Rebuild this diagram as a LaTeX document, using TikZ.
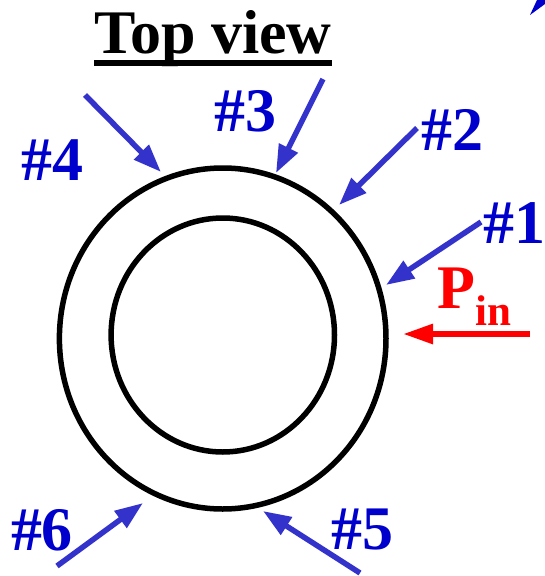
\documentclass[tikz,border=0pt]{standalone}
\usepackage{fontspec}
\setmainfont{Liberation Serif}
\usetikzlibrary{arrows.meta}
\definecolor{labelblue}{HTML}{0000CC}
\definecolor{arrowblue}{HTML}{3333CC}
\definecolor{pinred}{HTML}{FF0000}

\begin{document}
\begin{tikzpicture}[x=1pt, y=-1pt,
  ring/.style={draw=black, line width=5.5pt},
  probe/.style={draw=arrowblue, line width=5.5pt,
                -{Triangle[length=28pt,width=20pt]}},
  feed/.style={draw=pinred, line width=5.8pt,
               -{Triangle[length=30pt,width=19pt]}},
  big/.style={font=\fontsize{62}{62}\selectfont\bfseries, inner sep=0pt},
  num/.style={big, text=labelblue, anchor=base}]
\useasboundingbox (0,0) rectangle (545,576);

% title
\node[big, anchor=base] (title) at (213,53) {Top view};
\draw[line width=5.5pt] ([yshift=-10pt]title.base west) -- ([yshift=-10pt]title.base east);

% rings
\coordinate (c) at (222.7,338.5);
\draw[ring] (c) ellipse [x radius=163.3, y radius=170.5];
\draw[ring] (222.8,335) ellipse [x radius=111.7, y radius=117];

% probe labels
\foreach \n/\x/\y in {1/514/243, 2/452/150, 3/245.5/131, 4/52.5/180, 5/362.5/549, 6/42/550}
  \node[num] (n\n) at (\x,\y) {\#\n};

% probe arrows
\foreach \n/\sx/\sy/\tx/\ty in {1/481/222/386/285, 2/417/128/339/205, 3/323/79/276/173,
                                4/85/95/161/172, 5/360/573/263/511, 6/57/566/143/503}{
  \coordinate (s\n) at (\sx,\sy);
  \coordinate (t\n) at (\tx,\ty);
  \draw[probe] (s\n) -- (t\n);}

% input power
\node[big, text=pinred, anchor=base west] (pin) at (437,308)
  {P\raisebox{-17pt}{\fontsize{43}{43}\selectfont in}};
\coordinate (fs) at (530,334);
\coordinate (ft) at (403,334);
\draw[feed] (fs) -- (ft);

% cut-off tip at the corner
\fill[labelblue] (530,15) -- (537,0) -- (545,0) -- (545,4) -- cycle;

\end{tikzpicture}
\end{document}
